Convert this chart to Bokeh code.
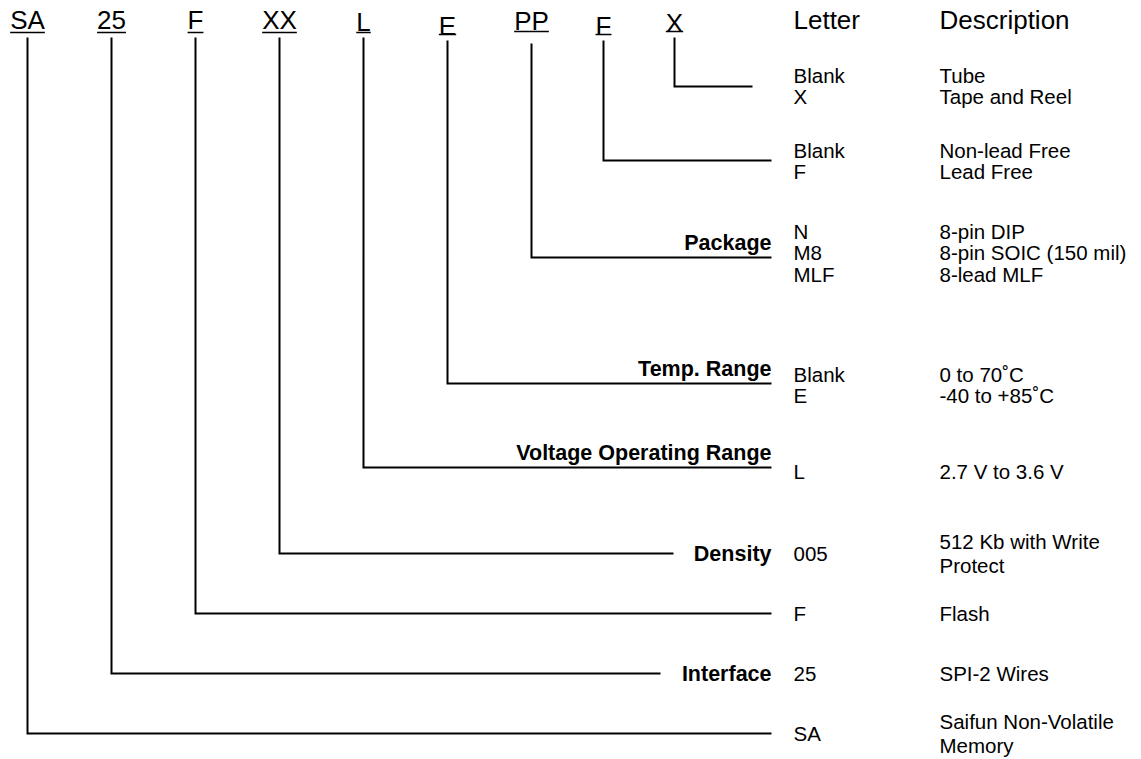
from bokeh.plotting import figure
from bokeh.models import Range1d
from bokeh.core.properties import value
from bokeh.embed import file_html
from bokeh.resources import INLINE

# ---------------- data ----------------
codes = ["SA", "25", "F", "XX", "L", "E", "PP", "F", "X"]
categories = ["", "Interface", "", "Density", "Voltage Operating Range",
              "Temp. Range", "Package", "", ""]
letters = [["SA"], ["25"], ["F"], ["005"], ["L"], ["Blank", "E"],
           ["N", "M8", "MLF"], ["Blank", "F"], ["Blank", "X"]]
descriptions = [["Saifun Non-Volatile\nMemory"], ["SPI-2 Wires"], ["Flash"],
                ["512 Kb with Write\nProtect"], ["2.7 V to 3.6 V"],
                ["0 to 70\u02daC", "-40 to +85\u02daC"],
                ["8-pin DIP", "8-pin SOIC (150 mil)", "8-lead MLF"],
                ["Non-lead Free", "Lead Free"], ["Tube", "Tape and Reel"]]
headers = ["Letter", "Description"]

# ---------------- layout (pixel coordinates of the page) ----------------
code_x = [27, 111, 195, 279, 363, 447, 531, 603, 674]
code_mid = [19, 19, 19, 19, 21, 25, 20, 25, 22]
code_uline = [32, 32, 32, 32, 32, 34, 31, 34, 31]
stem_top = [37, 37, 37, 37, 37, 40, 43, 40, 37]
branch_y = [733, 673, 613, 553, 467, 383, 257, 160, 86]
branch_end = [771, 660, 771, 673, 771, 771, 771, 771, 752]
row0 = [733, 673, 613, 553, 471, 374, 231, 150, 75]
label_underlined = [False, False, False, False, True, True, True, False, False]
ROW = 21.3
WRAP = 24
LETTER_X = 793
DESC_X = 939
LABEL_RIGHT = 771
FONT = value("Liberation Sans")

# Arial advance widths (em) for underline lengths
adv = {"S": .667, "A": .667, "2": .556, "5": .556, "F": .611, "X": .667,
       "L": .556, "E": .667, "P": .667}
CODE_SIZE = 26

p = figure(width=1141, height=759, output_backend="svg", toolbar_location=None,
           x_range=Range1d(0, 1141), y_range=Range1d(759, 0), min_border=0)
p.axis.visible = False
p.grid.visible = False
p.outline_line_color = None
p.background_fill_color = "white"
p.border_fill_color = "white"

# connector lines
xs, ys = [], []
for i in range(len(codes)):
    xs.append([code_x[i], code_x[i], branch_end[i]])
    ys.append([stem_top[i], branch_y[i], branch_y[i]])
p.multi_line(xs=xs, ys=ys, line_color="black", line_width=2, line_join="miter")

# code labels with underline
p.text(x=code_x, y=code_mid, text=codes, text_font=FONT,
       text_font_size=f"{CODE_SIZE}px", text_align="center",
       text_baseline="middle", text_color="black")
ux0, ux1 = [], []
for i, c in enumerate(codes):
    w = sum(adv[ch] for ch in c) * CODE_SIZE
    ux0.append(code_x[i] - w / 2)
    ux1.append(code_x[i] + w / 2)
p.segment(x0=ux0, y0=code_uline, x1=ux1, y1=code_uline, line_color="black",
          line_width=1.5)

# headers
p.text(x=[LETTER_X, DESC_X], y=[19, 19], text=headers, text_font=FONT,
       text_font_size="26px", text_baseline="middle", text_color="black")

# letters and descriptions
lx, ly, lt = [], [], []
dx, dy, dt = [], [], []
for i in range(len(codes)):
    for j, (le, de) in enumerate(zip(letters[i], descriptions[i])):
        yc = row0[i] + j * ROW
        lx.append(LETTER_X); ly.append(yc); lt.append(le)
        parts = de.split("\n")
        n = len(parts)
        for k, part in enumerate(parts):
            dx.append(DESC_X)
            dy.append(yc + (k - (n - 1) / 2) * WRAP)
            dt.append(part)
p.text(x=lx, y=ly, text=lt, text_font=FONT, text_font_size="20.5px",
       text_baseline="middle", text_color="black")
p.text(x=dx, y=dy, text=dt, text_font=FONT, text_font_size="20.5px",
       text_baseline="middle", text_color="black")

# category labels
cx, cy, ct = [], [], []
for i, cat in enumerate(categories):
    if not cat:
        continue
    cx.append(LABEL_RIGHT)
    cy.append(branch_y[i] - 15 if label_underlined[i] else branch_y[i])
    ct.append(cat)
p.text(x=cx, y=cy, text=ct, text_font=FONT, text_font_size="21.5px",
       text_font_style="bold", text_align="right", text_baseline="middle",
       text_color="black")

open("out.html", "w").write(file_html(p, INLINE))
